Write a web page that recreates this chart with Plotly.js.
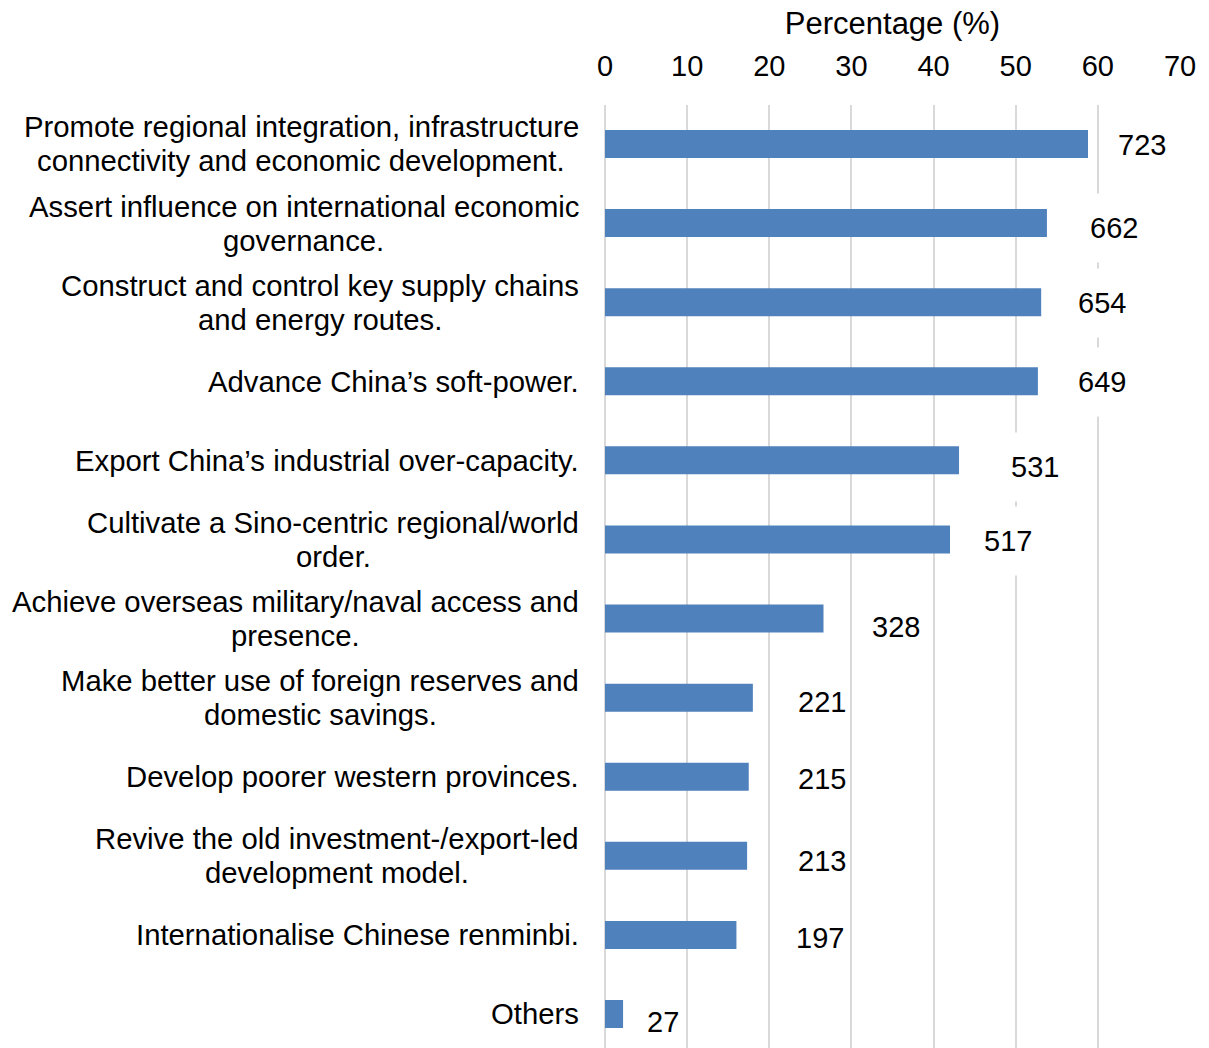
<!DOCTYPE html>
<html>
<head>
<meta charset="utf-8">
<script src="https://cdn.plot.ly/plotly-3.0.1.min.js"></script>
<style>html,body{margin:0;padding:0;background:#fff;}</style>
</head>
<body>
<div id="chart" style="width:1209px;height:1048px;"></div>
<script>
// ---- data ----
const categories = [
  "Promote regional integration, infrastructure<br>connectivity and economic development.",
  "Assert influence on international economic<br>governance.",
  "Construct and control key supply chains<br>and energy routes.",
  "Advance China\u2019s soft-power.",
  "Export China\u2019s industrial over-capacity.",
  "Cultivate a Sino-centric regional/world<br>order.",
  "Achieve overseas military/naval access and<br>presence.",
  "Make better use of foreign reserves and<br>domestic savings.",
  "Develop poorer western provinces.",
  "Revive the old investment-/export-led<br>development model.",
  "Internationalise Chinese renminbi.",
  "Others"
];
const percentages = [58.8, 53.8, 53.1, 52.7, 43.1, 42.0, 26.6, 18.0, 17.5, 17.3, 16.0, 2.2];
const counts = [723, 662, 654, 649, 531, 517, 328, 221, 215, 213, 197, 27];
const xTicks = [0, 10, 20, 30, 40, 50, 60, 70];

// label nudges (pixels) reproducing the manual label placement of the original
const labelDx = [54, 67, 61, 64, 76, 58, 72, 69, 73, 75, 84, 40];
const labelDy = [1, 5, 1, 1, 7, 2, 8, 4, 2, 5, 3, 8];

const FONT = "Liberation Sans, Arial, sans-serif";
const FS = 29;
const CAT_FS = 29.3;
const LINE_GAP = 34;   // px between the lines of a two-line category label
const LABEL_RIGHT = -26; // px from the plot's left edge to the labels' right edge

const ctx = document.createElement("canvas").getContext("2d");
ctx.font = CAT_FS + 'px "Liberation Sans", Arial, sans-serif';

const trace = {
  type: "bar",
  orientation: "h",
  x: percentages,
  y: categories,
  width: 0.354,
  marker: {color: "#4F81BD", line: {width: 0}},
  hoverinfo: "none"
};

const annotations = [];
categories.forEach((c, i) => {
  const lines = c.split("<br>");
  const maxW = Math.max(...lines.map(l => ctx.measureText(l).width));
  lines.forEach((line, j) => {
    annotations.push({
      xref: "paper", yref: "y", x: 0, y: c,
      xanchor: "center", yanchor: "middle",
      xshift: LABEL_RIGHT - maxW / 2,
      yshift: -(j - (lines.length - 1) / 2) * LINE_GAP,
      text: line, showarrow: false, align: "center",
      font: {family: FONT, size: CAT_FS, color: "#000"}
    });
  });
  annotations.push({
    xref: "x", yref: "y", x: percentages[i], y: c,
    xanchor: "center", yanchor: "middle",
    xshift: labelDx[i], yshift: -labelDy[i],
    text: String(counts[i]), showarrow: false,
    bgcolor: "#ffffff", borderpad: 2, height: 64,
    font: {family: FONT, size: FS, color: "#000"}
  });
});

const layout = {
  width: 1209, height: 1048,
  margin: {l: 605, r: 29, t: 105, b: 0, pad: 0},
  paper_bgcolor: "#ffffff", plot_bgcolor: "#ffffff",
  showlegend: false,
  font: {family: FONT, size: FS, color: "#000"},
  xaxis: {
    side: "top",
    range: [0, 70], autorange: false,
    tickvals: xTicks, ticktext: xTicks.map(String),
    showgrid: true, gridcolor: "#D9D9D9", gridwidth: 2,
    zeroline: true, zerolinecolor: "#D9D9D9", zerolinewidth: 2,
    showline: false, ticks: "",
    ticklabelstandoff: 22,
    tickfont: {family: FONT, size: FS, color: "#000"},
    title: {text: "Percentage (%)", standoff: 6, font: {family: FONT, size: 31, color: "#000"}}
  },
  yaxis: {
    type: "category",
    categoryorder: "array", categoryarray: categories,
    range: [11.43, -0.493], autorange: false,
    showticklabels: false, ticks: "",
    showgrid: false, zeroline: false, showline: false
  },
  annotations: annotations
};

Plotly.newPlot("chart", [trace], layout, {displayModeBar: false, staticPlot: true});
</script>
</body>
</html>
